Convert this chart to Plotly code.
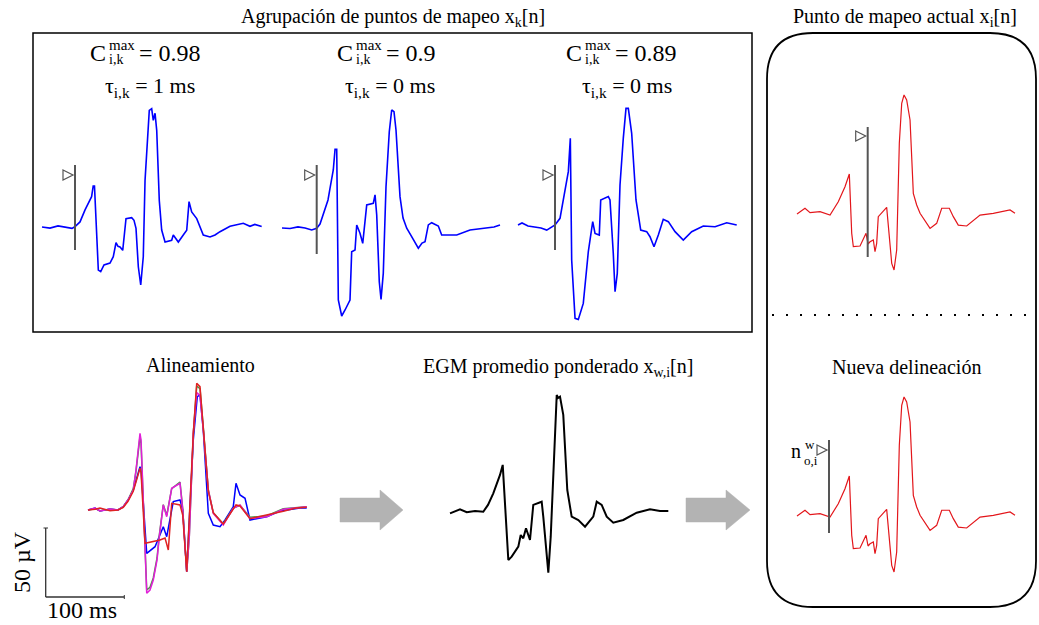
import plotly.graph_objects as go

W, H = 1039, 625
KX, KY = 1.25, 0.75  # ms per pixel, µV per pixel (display scale)

# ---------------- data: (time ms, amplitude µV) ----------------
egm_k1 = [(0,0),(10,-0.8),(20,0.8),(30,-0.4),(37.5,-1),(41,0.2),(47.5,3.8),(53.8,12.8),(62,22.7),
          (64,30.8),(65.6,30.8),(70.4,-32.3),(73.4,-33.5),(77.5,-28.5),(85,-27),(89.1,-22.3),(92.5,-11.8),
          (95,-14.5),(97.5,-15),(100.9,-17.5),(105,6.3),(112.1,7),(115,5),(117.5,-1),(120.4,-29.8),
          (123.4,-43.5),(126.6,-22.3),(128.8,35),(131.6,62.6),(134.1,87.5),(137.1,88.8),(139.1,80),
          (141.3,85.3),(143.4,72.5),(146.6,20),(149.6,-2.3),(153.8,-11.3),(162.1,-10),(164.1,-6),
          (170.4,-11.3),(176.6,-6),(180.9,-2.5),(183.8,19),(187.1,11.3),(193.4,6.3),(197.5,0.5),
          (201.6,-6),(210,-7.5),(216.3,-6),(222.5,-3.5),(235,0.5),(251.6,2.8),(260,0.5),(266,1.9),(274.6,0.3)]

egm_k2 = [(0,0),(10,-0.4),(20,0.8),(28.8,0),(37.1,-1.5),(43.4,-0.2),(47.5,3),(53.8,13.5),(57.5,21),
          (60,29.8),(64.1,43.5),(66.3,59),(68.4,59),(70.4,-54),(74.6,-66),(78.8,-61.5),(85,-54),
          (87.1,-17.8),(91.3,-16.5),(93.4,2.3),(97.5,-4),(100.9,-11.5),(105.9,17.3),(114.1,18.5),
          (116.3,24.8),(118.4,9.8),(121.6,-40.3),(123.8,-53.5),(126.6,-34),(130,31),(134.1,72.2),
          (137.1,88.5),(140,87.2),(142.5,73.5),(147.5,23.5),(151.3,7.5),(155.9,-0.2),(162.1,-6.5),
          (170.4,-15.2),(175,-11.3),(178.8,-10.3),(182.9,2.3),(187.1,4),(195.4,1.5),(199.6,-5.3),
          (218.4,-5.3),(235,-1.5),(245,-0.8),(255.9,-0.2),(265,0.8),(272.5,2.3)]

egm_k3 = [(0,0),(5,1.5),(12.5,-0.8),(21.3,-1.5),(28.8,-2.3),(35.9,-3.8),(41.3,-1.5),(46.3,0),(52.5,5),
          (56.6,20),(62.9,40),(65.4,65),(67.1,-26.3),(71.3,-70),(75.4,-70.8),(81.6,-58.8),(87.9,-20),
          (93.4,2.5),(96.3,-6.3),(101.6,-7.5),(103.4,18.8),(112.9,21.3),(115,18.8),(119.1,-21.3),
          (121.3,-50),(124.1,-36.3),(127.5,30),(131.6,65),(135,87.5),(137.9,87.5),(142.1,68.8),
          (147.5,18.8),(153.4,-3.8),(160.9,-5),(165,-8.8),(170,-16.3),(175.4,-7.5),(181.6,4.3),
          (187.9,2.5),(196.3,-5),(206.6,-11.3),(217.1,-5),(231.6,-0.8),(246.3,-1.3),(260.9,1.7),(273.4,0)]

egm_actual = [(0,0),(10,4.3),(16.3,1),(28.8,1.7),(41.3,-0.8),(51.6,9.2),(60,20.5),(65.4,30),(68.4,-14.5),
              (70.4,-24.5),(78.8,-24),(86.3,-14.5),(88.8,-22.5),(91.3,-20.8),(95.4,-19.5),(97.5,-28.3),
              (99.6,-22),(101.6,-2),(112.1,5),(115.4,-14.5),(118.4,-37),(121.3,-42),(124.6,-27),
              (127.9,53),(130.9,83),(133.8,89.3),(137.1,85.5),(141.3,70.5),(145.4,15.5),(149.6,6.8),
              (153.8,0.5),(166.3,-10.8),(174.6,-7),(180.9,4.3),(190.4,4.3),(195.4,-2),(201.6,-8.3),
              (212.1,-9),(228.8,-0.8),(245.4,0.5),(266.3,3),(272.5,0.5)]

align_blue = [(0,0),(8.8,1.5),(15,-0.8),(27.5,0.8),(37.5,0),(44.1,2.5),(50,7.5),(56.6,15),(65,32.5),
              (66.3,30),(73.4,-32.5),(83.8,-27.5),(94.1,-12.5),(98.4,-20),(106.6,6.3),(115,7.5),(118.4,0),
              (123.4,-46.3),(131.6,52.5),(136.6,85),(140,86.3),(144.1,60),(150.4,-2.5),(156.6,-11.3),
              (165,-12.5),(171.3,-7.5),(181.6,2.5),(185,20),(190,11.3),(196.3,8.8),(202.5,-7.5),
              (223.4,-5),(240,-0.8),(265,1.5),(273.4,1.5)]
align_green = [(0,0),(8.8,1),(15,-0.5),(27.5,0.5),(37.5,0),(44.1,2.5),(50,7.5),(56.6,16),(60,29),(65,55),
               (66.3,50),(73.4,-60),(77.5,-58),(81.6,-51),(86.3,-36),(89.1,-19),(94.1,4),(98.4,-4),
               (104.6,16),(115,21),(118.4,1),(123.4,-46.3),(126.6,-20),(131.6,57),(135.9,93),(140,91),
               (144.1,62),(150.4,15),(156.6,-2),(169.1,-10.5),(181.6,1.5),(190,3.5),(202.5,-5.5),
               (223.4,-4.5),(244.1,1),(273.4,2.5)]
align_magenta = [(0,0),(8.8,1.5),(15,-0.8),(27.5,0.8),(37.5,0),(44.1,2.5),(50,7.5),(56.6,15),(60,30),
                 (65,57.5),(66.3,52.5),(73.4,-62.5),(77.5,-60),(81.6,-52.5),(86.3,-37.5),(89.1,-20),
                 (94.1,3.8),(98.4,-5),(104.6,16.3),(115,20),(118.4,0),(123.4,-46.3),(126.6,-20),
                 (131.6,57.5),(135.9,88),(140,86),(144.1,60),(150.4,15),(156.6,-2.5),(169.1,-11.3),
                 (181.6,1.3),(190,3.8),(202.5,-6.3),(223.4,-5),(244.1,0.5),(273.4,2.5)]
align_red = [(0,0),(8.8,0.5),(15,1.5),(27.5,-0.5),(37.5,0),(44.1,2),(50,6.5),(56.6,14),(65,31.3),(66.3,28),
             (71.3,-25),(80,-24),(90,-22.5),(96.3,-21),(100.4,-30),(104.6,5),(115,3.8),(118.4,-3.8),
             (123.4,-46.3),(131.6,57),(135.9,95),(140,92.5),(144.1,62.5),(150.4,14),(156.6,-2),
             (169.1,-10.5),(185,3.8),(190,3),(202.5,-6.5),(223.4,-4),(244.1,-1),(260,1.5),(273.4,2)]

egm_weighted = [(0,-1),(12.5,2),(20.9,-0.2),(31.3,0.8),(41.6,0.2),(47.5,5.3),(54.1,14),(62.5,27.8),
                (65.9,35.3),(67.5,16.5),(72.9,-36),(77.1,-33.5),(85.4,-26),(88.4,-17.3),(91.6,-19.7),
                (95,-12.2),(100,-21),(104.1,5.3),(114.6,7.7),(116.6,-3.5),(120,-28.5),(122.9,-45.5),
                (125.9,-18.5),(130,46.5),(133.4,87.8),(135,85.5),(137.5,86.5),(141.6,72.8),(146.6,16.5),
                (152.1,-3.5),(160.4,-6),(168.8,-11),(179.1,-3.5),(183.4,7.7),(189.6,5.3),(195.9,-3.5),
                (204.1,-8),(216.6,-6),(233.4,-0.5),(250,2),(262.5,0.8),(272.9,0.8)]

corr_labels = ["0.98", "0.9", "0.89"]
lag_labels = ["1", "0", "0"]

# ---------------- layout helpers ----------------
FONT = "Liberation Serif, Times New Roman, serif"
fig = go.Figure()
layout = dict(width=W, height=H, margin=dict(l=0, r=0, t=0, b=0, pad=0),
              paper_bgcolor="white", plot_bgcolor="rgba(0,0,0,0)", showlegend=False,
              xaxis=dict(domain=[0, 1], range=[0, W], visible=False, fixedrange=True),
              yaxis=dict(domain=[0, 1], range=[H, 0], visible=False, fixedrange=True))

panel_count = [1]


def add_panel(x0, base, series):
    panel_count[0] += 1
    n = panel_count[0]
    layout[f"xaxis{n}"] = dict(domain=[0, 1], range=[-x0 * KX, (W - x0) * KX], visible=False,
                               anchor=f"y{n}", fixedrange=True)
    layout[f"yaxis{n}"] = dict(domain=[0, 1], range=[-(H - base) * KY, base * KY], visible=False,
                               anchor=f"x{n}", fixedrange=True)
    for pts, color, width in series:
        fig.add_trace(go.Scatter(x=[p[0] for p in pts], y=[p[1] for p in pts], mode="lines",
                                 line=dict(color=color, width=width), xaxis=f"x{n}", yaxis=f"y{n}",
                                 hoverinfo="skip"))


BLUE = "#0000ff"
RED = "#e3161b"
add_panel(42, 227, [(egm_k1, BLUE, 1.6)])
add_panel(282, 228, [(egm_k2, BLUE, 1.6)])
add_panel(518, 225, [(egm_k3, BLUE, 1.6)])
add_panel(797, 214, [(egm_actual, RED, 1.2)])
add_panel(797, 516, [(egm_actual, RED, 1.2)])
add_panel(88, 510, [(align_blue, BLUE, 1.5), (align_green, "#4b9444", 1.5),
                    (align_magenta, "#e11fd8", 1.5), (align_red, "#e02222", 1.5)])
add_panel(450, 512, [(egm_weighted, "black", 2)])

# ---------------- shapes ----------------
shapes = []
def line(x0, y0, x1, y1, color="black", width=1.5, dash=None):
    d = dict(type="line", xref="x", yref="y", x0=x0, y0=y0, x1=x1, y1=y1,
             line=dict(color=color, width=width))
    if dash:
        d["line"]["dash"] = dash
    shapes.append(d)

def path(p, fill="rgba(0,0,0,0)", color="black", width=1.5):
    shapes.append(dict(type="path", xref="x", yref="y", path=p, fillcolor=fill,
                       line=dict(color=color, width=width)))

# top rectangle
shapes.append(dict(type="rect", xref="x", yref="y", x0=33, y0=33, x1=752, y1=332,
                   line=dict(color="black", width=1.5)))
# rounded box on the right
r = 46
L, T, R, B = 767, 33, 1036, 607
path(f"M {L+r} {T} L {R-r} {T} Q {R} {T} {R} {T+r} L {R} {B-r} Q {R} {B} {R-r} {B} "
     f"L {L+r} {B} Q {L} {B} {L} {B-r} L {L} {T+r} Q {L} {T} {L+r} {T} Z", width=1.8)
# dotted separator
line(772, 315, 1032, 315, width=2, dash="2px,12px")

# onset markers
GRAY = "#555555"
def onset(x, y0, y1, ty):
    line(x, y0, x, y1, color=GRAY, width=2)
    path(f"M {x-12} {ty-5} L {x-2} {ty} L {x-12} {ty+5} Z", fill="white", color=GRAY, width=1.2)

onset(75, 165, 250, 175)
onset(316.7, 165, 254, 175)
onset(555, 165, 250, 175)
onset(867.7, 127, 257, 136)
onset(829, 440, 533, 450)

# arrows
AG = "#b3b3b3"
for xs, xh, xt in [(340, 380, 403), (686, 726, 750)]:
    path(f"M {xs} 498 L {xh} 498 L {xh} 490 L {xt} 510 L {xh} 530 L {xh} 522 L {xs} 522 Z",
         fill=AG, color=AG, width=0.5)

# scale bar
line(45.7, 528, 45.7, 597, color="#333333", width=1.3)
line(45.7, 597, 124.3, 597, color="#333333", width=1.3)
line(43.5, 528, 48, 528, color="#333333", width=1)
line(124.3, 595, 124.3, 599, color="#333333", width=1)

layout["shapes"] = shapes

# ---------------- text ----------------
ann = []
def text(x, y, s, size=20, xanchor="center", angle=0):
    ann.append(dict(xref="x", yref="y", x=x, y=y, text=s, showarrow=False, xanchor=xanchor,
                    yanchor="middle", textangle=angle, font=dict(family=FONT, size=size, color="black")))

text(393, 17, "Agrupación de puntos de mapeo x<sub>k</sub>[n]")
text(905, 17, "Punto de mapeo actual x<sub>i</sub>[n]")
text(906, 367, "Nueva delineación")
text(200, 365, "Alineamiento")
text(558, 367, "EGM promedio ponderado x<sub>w,i</sub>[n]")

for cx, tx, c, lag in zip([92, 339, 568], [150, 390, 627], corr_labels, lag_labels):
    text(cx + 16, 53, "C", size=24, xanchor="right")
    text(cx + 15, 45, "max", size=15, xanchor="left")
    text(cx + 15, 59, "i,k", size=14, xanchor="left")
    text(cx + 45, 53, f"= {c}", size=24, xanchor="left")
    text(tx, 87, f"τ<sub>i,k</sub> = {lag} ms", size=22)

text(796, 451, "n", size=20)
text(803, 444, "w", size=13, xanchor="left")
text(802, 460, "o,i", size=13, xanchor="left")

text(22, 562, "50 µV", size=24, angle=-90)
text(82, 610, "100 ms", size=24)

layout["annotations"] = ann
fig.update_layout(**layout)
fig.write_html("out.html", config={"displayModeBar": False, "staticPlot": True},
               post_script="document.body.style.margin='0px';document.body.style.overflow='hidden';")
